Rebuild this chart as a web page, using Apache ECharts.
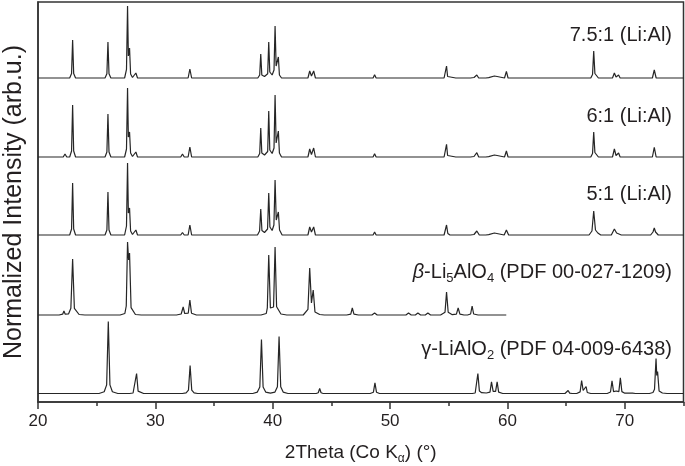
<!DOCTYPE html>
<html>
<head>
<meta charset="utf-8">
<script src="https://cdn.jsdelivr.net/npm/echarts@6/dist/echarts.min.js"></script>
<style>html,body{margin:0;padding:0;background:#fff}#c{width:685px;height:466px}</style>
</head>
<body>
<div id="c"></div>
<script>
// ---- DATA (2Theta in degrees, intensity in arbitrary normalized units) ----
const seriesNames = ['7.5:1 (Li:Al)', '6:1 (Li:Al)', '5:1 (Li:Al)', 'β-Li5AlO4 (PDF 00-027-1209)', 'γ-LiAlO2 (PDF 04-009-6438)'];
const stackOffsets = [324, 245, 167, 87, 8.5];
const xTickLabels = [20, 30, 40, 50, 60, 70];

const sample75 = [[20,0],
[22.15,0],[22.3,2],[22.45,0],
[22.7,0],[22.86,4.5],[22.95,38],[23.04,4.5],[23.2,0],
[25.71,0],[25.87,4.3],[25.96,36],[26.05,4.3],[26.21,0],
[27.38,0],[27.54,8.6],[27.63,72],[27.7,22],[27.8,30],[27.89,4],[28.05,0.5],
[28.2,0],[28.34,5],[28.48,0],
[32.16,0],[32.31,2],[32.46,0],
[32.79,0],[32.94,9],[33.09,0],
[38.73,0],[38.89,3],[38.98,24],[39.07,3],[39.3,1.5],[39.57,4.3],[39.66,36],[39.75,6],[39.95,3],[40.11,8],[40.2,52],[40.29,12],[40.36,10],[40.48,21],[40.57,3],[40.75,0],
[43.0,0],[43.15,7],[43.3,2],[43.49,7],[43.64,0],
[46.65,0],[46.78,1.5],[46.9,0],
[48.55,0],[48.68,3.3],[48.81,0],
[51.45,0],[51.57,2],[51.7,0],
[53.1,0],[53.22,1],[53.35,0],
[54.6,0],[54.73,1.5],[54.81,12],[54.9,1.5],[55.05,0],
[55.6,0],[55.72,2],[55.85,0],
[56.85,0],[56.99,2],[57.15,0.5],[57.39,3],[57.55,0],
[58.15,0],[58.27,1.5],[58.4,0.3],[58.89,2],[59.0,0.8],[59.12,1.5],[59.25,0],
[59.75,0],[59.91,6.7],[60.05,0],
[66.1,0],[66.21,1.5],[66.35,0],
[67.1,0],[67.25,3.5],[67.35,27],[67.45,4.5],[67.6,5],[67.75,0],
[68.95,0],[69.11,5],[69.25,1],[69.47,3],[69.6,0],
[71.65,0],[71.8,2],[71.95,0],
[72.35,0],[72.51,8],[72.67,0],
[75,0]];

const sample6 = [[20,0],
[22.15,0],[22.3,3],[22.45,0],
[22.7,0],[22.86,6],[22.95,52],[23.04,6],[23.2,0],
[24.8,0],[24.9,1],[25.0,0],
[25.71,0],[25.87,5],[25.96,43],[26.05,5],[26.21,0],
[27.38,0],[27.54,8],[27.63,69],[27.7,20],[27.8,25],[27.89,4],[28.05,0.5],
[28.2,0],[28.34,5],[28.48,0],
[32.16,0],[32.31,3],[32.46,0],
[32.79,0],[32.94,10],[33.09,0],
[34.85,0],[35.0,1],[35.15,0],
[38.73,0],[38.89,3.5],[38.98,29],[39.07,4],[39.3,2],[39.57,5.5],[39.66,46],[39.75,7],[39.95,3.5],[40.11,9],[40.2,62],[40.29,14],[40.36,12],[40.48,26],[40.57,4],[40.75,0],
[43.0,0],[43.15,8],[43.3,2.5],[43.49,9],[43.64,0],
[46.65,0],[46.78,1.5],[46.9,0],
[48.55,0],[48.68,3.3],[48.81,0],
[51.45,0],[51.57,2],[51.7,0],
[54.6,0],[54.73,1.5],[54.81,12.7],[54.9,1.5],[55.05,0],
[55.6,0],[55.72,2],[55.85,0],
[56.85,0],[56.99,2],[57.15,0.5],[57.39,4.3],[57.55,0],
[58.15,0],[58.27,2],[58.4,0.3],[58.89,2],[59.0,0.8],[59.12,1.5],[59.25,0],
[59.75,0],[59.91,6],[60.05,0],
[66.1,0],[66.21,1.5],[66.35,0],
[67.1,0],[67.25,3.5],[67.35,25],[67.45,4.5],[67.6,5],[67.75,0],
[68.95,0],[69.11,8],[69.25,1.5],[69.47,4],[69.6,0],
[71.65,0],[71.8,2],[71.95,0],
[72.35,0],[72.51,9.7],[72.67,0],
[75,0]];

const sample5 = [[20,0],
[22.15,0],[22.3,2],[22.45,0],
[22.7,0],[22.86,6],[22.95,52],[23.04,6],[23.2,0],
[24.85,0],[25.0,2],[25.15,0],
[25.71,0],[25.87,5],[25.96,43],[26.05,5],[26.21,0],
[27.38,0],[27.54,9],[27.63,72],[27.7,22],[27.8,27],[27.89,4],[28.05,0.5],
[28.2,0],[28.34,5],[28.48,0],
[32.16,0],[32.31,2.5],[32.46,0],
[32.79,0],[32.94,10],[33.09,0],
[37.05,0],[37.2,1],[37.35,0],[37.85,0],[38.0,1.5],[38.15,0],
[38.7,0],[38.88,4],[38.98,26],[39.08,4.5],[39.3,2.5],[39.56,6],[39.66,42],[39.76,8],[39.95,4.5],[40.1,10],[40.2,55],[40.3,15],[40.37,13],[40.48,23],[40.58,5],[40.8,0],
[43.0,0],[43.15,8],[43.3,3],[43.49,8],[43.64,0],
[46.65,0],[46.78,1.5],[46.9,0],
[48.55,0],[48.68,3],[48.81,0],
[51.45,0],[51.57,2],[51.7,0],
[54.6,0],[54.72,1.5],[54.81,10],[54.92,1.5],[55.1,0],
[55.6,0],[55.72,2],[55.85,0],
[56.85,0],[56.99,2],[57.15,0.5],[57.39,4],[57.6,0],
[58.15,0],[58.27,1.5],[58.4,0.3],[58.89,2],[59.05,0],
[59.72,0],[59.91,5],[60.1,0],
[66.95,0],[67.2,4],[67.35,24],[67.5,5],[67.7,2],[67.95,0],
[68.85,0],[69.11,6],[69.3,2],[69.47,3],[69.7,0],
[71.65,0],[71.8,2],[71.95,0],
[72.2,0],[72.4,3],[72.51,7],[72.62,3],[72.85,0],
[75,0]];

const refBeta = [[20,0],
[21.8,0],[22.1,0.8],[22.21,4],[22.32,0.8],[22.6,1],[22.8,6.7],[22.95,56],[23.1,6.7],[23.5,0.5],[24,0],
[27.0,0],[27.4,1.5],[27.52,9],[27.63,73],[27.72,55],[27.8,62],[27.93,7.4],[28.3,0.5],[28.8,0],
[31.8,0],[32.2,1],[32.37,8],[32.5,1.5],[32.8,1.8],[32.94,15],[33.08,1.8],[33.5,0],
[39.0,0],[39.45,1.5],[39.54,7.2],[39.66,60],[39.8,7],[39.93,5],[40.07,8],[40.2,68],[40.33,8.2],[40.7,1],[41.2,0],
[42.6,0],[43.0,5.6],[43.15,47],[43.3,12],[43.45,25],[43.6,3],[44.0,0.5],[44.4,0],
[46.3,0],[46.65,0.8],[46.78,7],[46.92,0.8],[47.3,0],
[48.45,0],[48.68,2],[48.9,0],
[51.35,0],[51.57,2],[51.8,0],[52.15,0],[52.37,2],[52.6,0],[53.0,0],[53.22,2],[53.45,0],
[54.3,0],[54.68,2.8],[54.81,23],[54.95,2.8],[55.3,0.3],[55.65,0.8],[55.8,7],[55.95,0.8],[56.3,0],
[56.6,0],[56.86,1],[56.99,9],[57.12,1],[57.5,0],
[59.9,0]];

const refGamma = [[20,0],
[25.2,0],[25.64,1.8],[25.85,8.6],[25.99,72],[26.13,8.6],[26.34,1.8],[26.8,0],
[27.8,0],[28.1,0.5],[28.27,2.4],[28.4,20],[28.53,2.4],[28.7,0.5],[29.0,0],
[32.3,0],[32.62,0.7],[32.82,3.4],[32.96,28],[33.1,3.4],[33.3,0.7],[33.6,0],
[38.3,0],[38.69,1.4],[38.9,6.5],[39.04,54],[39.18,6.5],[39.4,1.4],[39.8,0.3],[40.19,1.4],[40.4,6.8],[40.54,57],[40.68,6.8],[40.89,1.4],[41.3,0],
[43.7,0],[43.88,0.7],[44.0,5],[44.12,0.7],[44.3,0],
[45.4,0],[45.56,1],[45.7,0],
[48.3,0],[48.58,1.3],[48.71,10.7],[48.84,1.3],[49.1,0],
[54.85,0],[55.0,1.5],[55.15,0],
[57.0,0],[57.25,0.5],[57.35,2.4],[57.48,20],[57.61,2.4],[57.8,0.8],[58.2,0.5],[58.51,1.4],[58.64,11.7],[58.78,2.2],[58.88,2],[58.99,2.2],[59.12,11.7],[59.25,1.4],[59.6,0],
[64.9,0],[65.05,0.4],[65.17,3],[65.3,0.4],[65.5,0],
[65.9,0],[66.19,1.6],[66.32,13],[66.45,3],[66.55,3.5],[66.62,3],[66.7,7],[66.8,1],[67.1,0],
[68.5,0],[68.78,1.5],[68.91,12.7],[69.04,1.8],[69.27,2.5],[69.49,1.9],[69.62,15.6],[69.75,1.9],[70.0,0.3],[70.4,0.3],[70.53,2],[70.66,0.3],[70.9,0],
[72.1,0],[72.4,1],[72.53,4.2],[72.66,35],[72.72,18],[72.79,22],[72.92,2.6],[73.2,0.5],[73.6,0],
[75,0]];

const traces = [sample75, sample6, sample5, refBeta, refGamma];

// Rich-text versions of the trace labels
const labelTexts = [
  '{n|7.5:1 (Li:Al)}',
  '{n|6:1 (Li:Al)}',
  '{n|5:1 (Li:Al)}',
  '{bi|β}{n|-Li}{s|5}{n|AlO}{s|4}{n| (PDF 00-027-1209)}',
  '{n|γ-LiAlO}{s|2}{n| (PDF 04-009-6438)}'
];

// ---- CHART ----
const FONT = '"Liberation Sans", Arial, sans-serif';
const TXT = '#231f20';
const labelCenterY = [35, 116, 194, 272, 349];
const rich = {
  n: {fontSize: 20, fontFamily: FONT, color: TXT, fill: TXT, lineHeight: 26},
  bi: {fontSize: 20, fontFamily: FONT, fontStyle: 'italic', color: TXT, fill: TXT, lineHeight: 26},
  s: {fontSize: 13, fontFamily: FONT, color: TXT, fill: TXT, lineHeight: 13, verticalAlign: 'bottom'}
};

const chart = echarts.init(document.getElementById('c'), null, {renderer: 'canvas'});
chart.setOption({
  animation: false,
  backgroundColor: '#fff',
  grid: {left: 38, right: 1.5, top: 2, bottom: 64, containLabel: false, outerBoundsMode: 'none',
    show: true, borderColor: '#333', borderWidth: 1.5, backgroundColor: 'transparent'},
  xAxis: [{
    type: 'value', min: 20, max: 75, interval: 10, position: 'bottom',
    axisLine: {show: true, lineStyle: {color: '#333', width: 1.5}},
    axisTick: {show: true, inside: false, length: 7, lineStyle: {color: '#333', width: 1.5}},
    axisLabel: {show: true, margin: 11, fontSize: 17, fontFamily: FONT, color: TXT, showMaxLabel: false,
      formatter: v => xTickLabels.includes(v) ? String(v) : ''},
    splitLine: {show: false},
    name: '{n|2Theta (Co K}{s|α}{n|) (°)}',
    nameLocation: 'middle', nameGap: 39,
    nameTextStyle: {rich: {
      n: {fontSize: 19, fontFamily: FONT, color: TXT, lineHeight: 24},
      s: {fontSize: 12, fontFamily: FONT, color: TXT, lineHeight: 12, verticalAlign: 'bottom'}
    }}
  }, {
    type: 'value', min: 20, max: 75, interval: 5, position: 'bottom',
    axisLine: {show: false},
    axisTick: {show: true, inside: false, length: 4, lineStyle: {color: '#333', width: 1.5}},
    axisLabel: {show: false},
    splitLine: {show: false}
  }],
  yAxis: {
    type: 'value', min: 0, max: 400, position: 'left',
    axisLine: {show: true, lineStyle: {color: '#333', width: 1.5}},
    axisTick: {show: false}, axisLabel: {show: false}, splitLine: {show: false},
    name: 'Normalized Intensity (arb.u.)', nameLocation: 'middle', nameGap: 11,
    nameTextStyle: {fontSize: 25, fontFamily: FONT, color: TXT}
  },
  series: traces.map((t, i) => ({
    name: seriesNames[i],
    type: 'line',
    xAxisIndex: 0,
    showSymbol: false,
    symbol: 'none',
    smooth: false,
    lineStyle: {color: '#262626', width: 1.2},
    data: t.map(p => [p[0], p[1] + stackOffsets[i]])
  })),
  graphic: labelTexts.map((txt, i) => ({
    type: 'text',
    x: 672, y: labelCenterY[i],
    z: 100,
    style: {text: txt, rich: rich, align: 'right', verticalAlign: 'middle', fill: TXT, font: '20px ' + FONT}
  }))
});
</script>
</body>
</html>
